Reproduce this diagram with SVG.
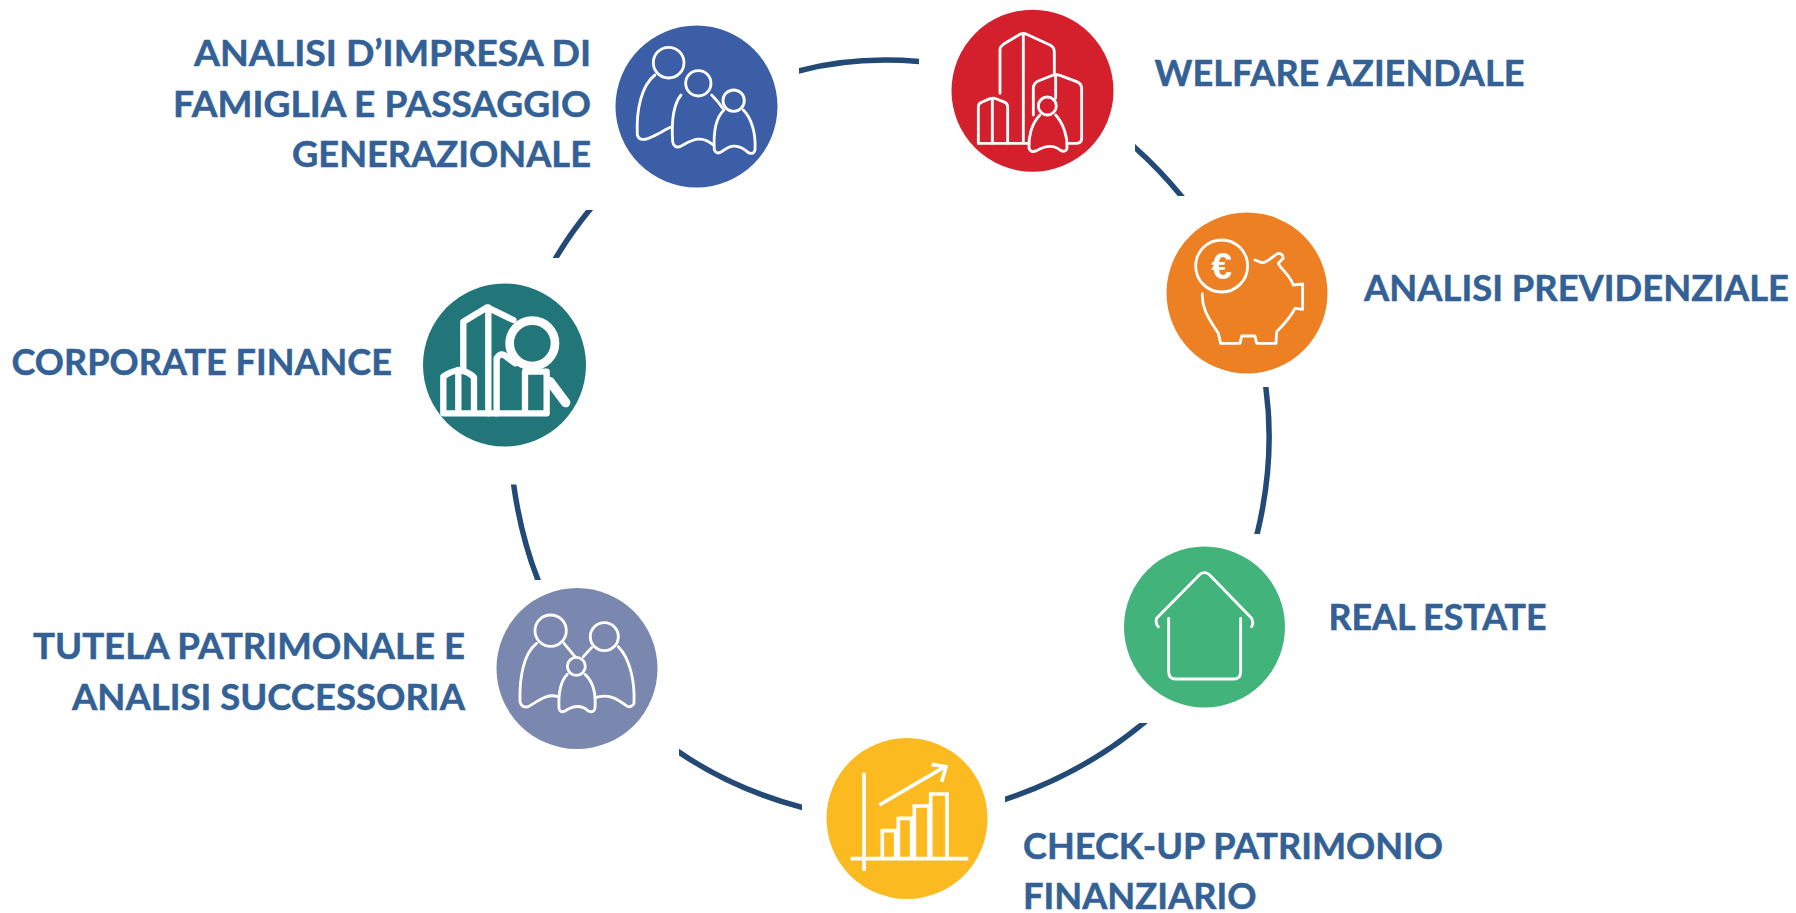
<svg xmlns="http://www.w3.org/2000/svg" width="1796" height="913" viewBox="0 0 1796 913">
<style>
.bg{fill:#fff}
.lbl{font-family:"Lato","Carlito","Liberation Sans",sans-serif;font-weight:700;font-size:36px;fill:#336195;stroke:#336195;stroke-width:.5}
.arc{fill:none;stroke:#234a76;stroke-width:5.5}
.ic{fill:none;stroke:#fff;stroke-width:8.500;stroke-linecap:round;stroke-linejoin:round}
</style>
<defs>
<filter id="soft" x="-5%" y="-5%" width="110%" height="110%"><feGaussianBlur stdDeviation="0.45"/></filter>
<clipPath id="c1"><rect x="799" y="40" width="120" height="50"/></clipPath>
<clipPath id="c2"><rect x="1135" y="130" width="70" height="66"/></clipPath>
<clipPath id="c3"><rect x="1240" y="387" width="50" height="147"/></clipPath>
<clipPath id="c4"><rect x="1005" y="723" width="160" height="90"/></clipPath>
<clipPath id="c5"><rect x="679" y="735" width="123" height="85"/></clipPath>
<clipPath id="c6"><rect x="500" y="484.5" width="60" height="95.5"/></clipPath>
<clipPath id="c7"><rect x="540" y="210" width="70" height="48"/></clipPath>
</defs>
<rect class="bg" width="1796" height="913"/>
<g id="connectors">
<path class="arc" clip-path="url(#c1)" d="M785 75Q850 54 930 62.5"/>
<path class="arc" clip-path="url(#c2)" d="M1125 139Q1160 168 1190 207"/>
<path class="arc" clip-path="url(#c3)" d="M1264 375Q1278 458 1254 546"/>
<path class="arc" clip-path="url(#c4)" d="M1153 715Q1085 775 994 803"/>
<path class="arc" clip-path="url(#c5)" d="M669 745Q730 790 812 810"/>
<path class="arc" clip-path="url(#c6)" d="M512 472Q520 540 543 592"/>
<path class="arc" clip-path="url(#c7)" d="M550 268Q570 232 598 200"/>
</g>
<g id="node-impresa">
<circle cx="696.5" cy="106.5" r="81" fill="#3b5ea6"/>
<g transform="translate(600 10) scale(.3333)" class="ic" filter="url(#soft)">
<circle cx="206" cy="158" r="46"/><circle cx="295" cy="220" r="38"/><circle cx="401" cy="272" r="32"/>
<path d="M165 195C125 225 108 300 112 375Q118 395 145 385C170 375 190 362 212 352"/>
<path d="M243 255C215 290 215 350 218 395Q222 415 240 410C270 395 300 370 340 405"/>
<path d="M335 255Q355 275 368 295"/>
<path d="M372 300C345 325 340 370 343 420Q350 435 365 425C385 410 410 395 445 428Q462 435 465 420C468 370 455 325 430 300"/>
</g>
<text class="lbl" x="591" y="65.5" text-anchor="end" textLength="397" lengthAdjust="spacingAndGlyphs">ANALISI D’IMPRESA DI</text>
<text class="lbl" x="591" y="116.5" text-anchor="end" textLength="418" lengthAdjust="spacingAndGlyphs">FAMIGLIA E PASSAGGIO</text>
<text class="lbl" x="591" y="167" text-anchor="end" textLength="299" lengthAdjust="spacingAndGlyphs">GENERAZIONALE</text>
</g>
<g id="node-welfare">
<circle cx="1032.5" cy="90.7" r="81" fill="#d4202c"/>
<g transform="translate(935 0) scale(.3333)" class="ic" filter="url(#soft)">
<path d="M195 280V150Q195 140 205 133L255 103Q265 98 275 103L345 135Q358 142 358 155V225"/>
<path d="M265 103V430M130 430H280"/>
<path d="M130 430V320Q130 310 140 307L165 296Q175 292 185 297L210 307Q218 312 218 322V430M172 295V430"/>
<path d="M295 345V265Q295 250 310 243L355 225Q365 222 375 226L425 245Q440 252 440 265V415Q440 430 425 430H400M362 225V295"/>
<circle cx="337" cy="318" r="27"/>
<path d="M315 345C290 370 280 410 282 445Q287 460 305 452C325 440 350 430 375 450Q392 460 396 445C398 410 385 370 362 345"/>
</g>
<text class="lbl" x="1154.5" y="86" textLength="370" lengthAdjust="spacingAndGlyphs">WELFARE AZIENDALE</text>
</g>
<g id="node-previdenziale">
<circle cx="1247" cy="293" r="80.5" fill="#ee8024"/>
<g transform="translate(1150 200) scale(.3333)" class="ic" filter="url(#soft)">
<circle cx="215" cy="198" r="78"/>
<path d="M157 282C155 330 180 360 205 400L212 430H270L275 408H315L320 430H378L380 395C400 375 420 355 435 325L458 328V252L430 255C420 225 395 210 385 190L400 175Q398 160 385 160C365 170 350 190 335 188L315 180"/>
<text x="215" y="238" text-anchor="middle" font-family="Liberation Sans, sans-serif" font-weight="700" font-size="112" fill="#fff" stroke="none">€</text>
</g>
<text class="lbl" x="1364" y="301" textLength="425" lengthAdjust="spacingAndGlyphs">ANALISI PREVIDENZIALE</text>
</g>
<g id="node-real-estate">
<circle cx="1204.5" cy="627" r="80.5" fill="#42b37b"/>
<g transform="translate(1110 535) scale(.3333)" class="ic" filter="url(#soft)">
<path d="M145 275Q135 265 140 250L270 118Q283 108 297 118L425 250Q432 265 425 275"/>
<path d="M176 250V410Q176 432 198 432H370Q392 432 392 410V250"/>
</g>
<text class="lbl" x="1328.5" y="630" textLength="218" lengthAdjust="spacingAndGlyphs">REAL ESTATE</text>
</g>
<g id="node-checkup">
<circle cx="907" cy="818.5" r="80.5" fill="#fbbb20"/>
<g transform="translate(810 725) scale(.3333)" class="ic" filter="url(#soft)" style="stroke-linecap:butt;stroke-linejoin:miter;stroke-width:11">
<path d="M162 143V437M122 401H475"/>
<path d="M217 397V317H257V397M265 397V280H305V397M313 397V243H357V397M362 397V207H411V397"/>
<path d="M208 240L405 125"/><path d="M365 118L408 125L395 170"/>
</g>
<text class="lbl" x="1023" y="859" textLength="420" lengthAdjust="spacingAndGlyphs">CHECK-UP PATRIMONIO</text>
<text class="lbl" x="1023" y="909" textLength="233.500" lengthAdjust="spacingAndGlyphs">FINANZIARIO</text>
</g>
<g id="node-tutela">
<circle cx="577" cy="668.5" r="80.5" fill="#7a87af"/>
<g transform="translate(480 575) scale(.3333)" class="ic" filter="url(#soft)">
<circle cx="212" cy="167" r="47"/><circle cx="373" cy="185" r="42"/><circle cx="289" cy="274" r="27"/>
<path d="M170 205C130 235 118 310 120 380Q125 400 145 395C180 375 200 355 235 365"/>
<path d="M415 215C450 250 465 320 462 385Q455 400 440 393C410 370 385 355 345 368"/>
<path d="M262 298C240 320 235 360 237 400Q240 415 255 408C275 395 300 385 325 408Q342 415 345 400C348 360 340 320 315 298"/>
<path d="M252 205L285 245M310 245L335 218"/>
</g>
<text class="lbl" x="465" y="658.500" text-anchor="end" textLength="432" lengthAdjust="spacingAndGlyphs">TUTELA PATRIMONALE E</text>
<text class="lbl" x="465" y="710" text-anchor="end" textLength="393" lengthAdjust="spacingAndGlyphs">ANALISI SUCCESSORIA</text>
</g>
<g id="node-corporate">
<circle cx="504.500" cy="365" r="81.5" fill="#22767a"/>
<g transform="translate(400 270) scale(.3333)" class="ic" filter="url(#soft)" style="stroke-width:19">
<circle cx="397" cy="220" r="68" style="stroke-width:26"/>
<path d="M450 335L497 398" style="stroke-width:28"/>
<path d="M130 430V320Q150 305 175 300Q205 305 222 322V430M175 300V430M130 430H440V305M375 305H440M375 305V430"/>
<path d="M190 300V155L262 112L340 150M265 112V430"/>
<path d="M290 430V265Q300 250 312 255L345 280"/>
</g>
<text class="lbl" x="11.500" y="374.500" textLength="380.500" lengthAdjust="spacingAndGlyphs">CORPORATE FINANCE</text>
</g>
</svg>
